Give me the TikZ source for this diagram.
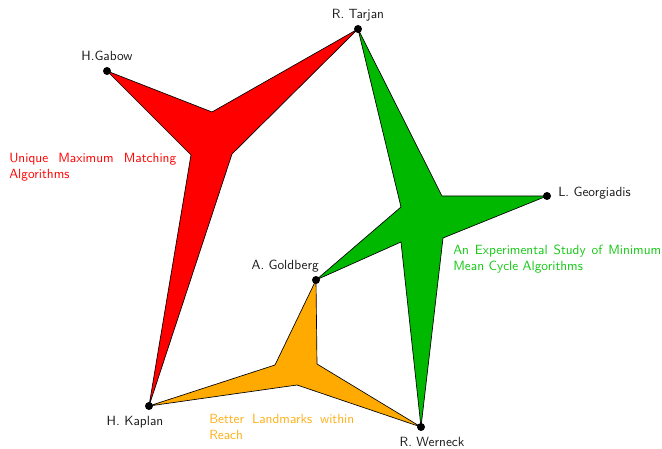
\documentclass[tikz,border=0pt]{standalone}
\begin{document}
\begin{tikzpicture}[x=0.75pt,y=-0.75pt,font=\sffamily,
  dot/.style={circle,fill=black,inner sep=0pt,minimum size=6pt},
  vlabel/.style={inner sep=0pt,text=black!90},
  edge/.style={draw=black,line width=0.5pt,line join=miter},
  elabel/.style={inner sep=0pt,align=left,anchor=base west}]
\definecolor{hred}{RGB}{255,0,0}
\definecolor{hgreen}{RGB}{0,184,0}
\definecolor{horange}{RGB}{255,170,0}
\definecolor{tgreen}{RGB}{20,200,20}
\definecolor{torange}{RGB}{255,175,20}
\useasboundingbox (0,0) rectangle (662,449);
\coordinate (tarjan) at (358,29);
\coordinate (gabow) at (107,71);
\coordinate (georg) at (547,196);
\coordinate (goldberg) at (316,280);
\coordinate (kaplan) at (149,406);
\coordinate (werneck) at (421,427);
% red hyperedge
\path[edge,fill=hred] (gabow) -- (212,112) -- (tarjan) -- (232,154) -- (kaplan) -- (191,155) -- cycle;
% green hyperedge
\path[edge,fill=hgreen] (tarjan) -- (442,196) -- (georg) -- (443,238) -- (werneck) -- (401,242) -- (goldberg) -- (401,207) -- cycle;
% orange hyperedge
\path[edge,fill=horange] (goldberg) -- (317,364) -- (werneck) -- (297,385) -- (kaplan) -- (275,365) -- cycle;
% vertices
\node[dot] (ntarjan) at (tarjan) {};
\node[dot] (ngabow) at (gabow) {};
\node[dot] (ngeorg) at (georg) {};
\node[dot] (ngoldberg) at (goldberg) {};
\node[dot] (nkaplan) at (kaplan) {};
\node[dot] (nwerneck) at (werneck) {};
% vertex labels
\node[vlabel,anchor=base] (ltarjan) at (358,19) {R. Tarjan};
\node[vlabel,anchor=base] (lgabow) at (107,61) {H.Gabow};
\node[vlabel,anchor=base west] (lgeorg) at (558,197) {L. Georgiadis};
\node[vlabel,anchor=base east] (lgoldberg) at (319,270) {A. Goldberg};
\node[vlabel,anchor=base] (lkaplan) at (135,426) {H. Kaplan};
\node[vlabel,anchor=base] (lwerneck) at (432,447) {R. Werneck};
% edge labels
\node[elabel,text=hred,text width=125.25pt] (tred) at (9,163)
  {\hbox to 125.25pt{Unique\hfill Maximum\hfill Matching}\\Algorithms};
\node[elabel,text=tgreen,text width=156pt] (tgreen) at (453,255)
  {\hbox to 156pt{An\hfill Experimental\hfill Study\hfill of\hfill Minimum}\\Mean Cycle Algorithms};
\node[elabel,text=torange,text width=108.75pt] (torange) at (209,424)
  {\hbox to 108.75pt{Better\hfill Landmarks\hfill within}\\Reach};
\end{tikzpicture}
\end{document}
